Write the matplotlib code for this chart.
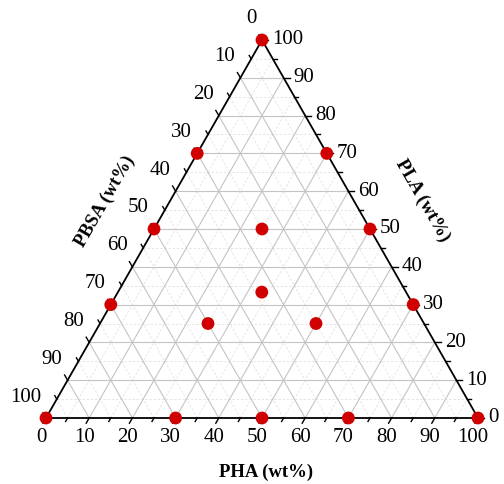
import numpy as np
import matplotlib
matplotlib.use("Agg")
import matplotlib.pyplot as plt

plt.rcParams['font.family'] = ['Liberation Serif', 'DejaVu Serif']

# Blend compositions (wt%)
pha  = [0, 0, 100, 30, 50, 70, 0, 0, 0, 30, 50, 70, 25, 33.3, 25, 50]
pla  = [100, 0, 0, 0, 0, 0, 70, 50, 30, 70, 50, 30, 50, 33.3, 25, 25]
pbsa = [0, 100, 0, 70, 50, 30, 30, 50, 70, 0, 0, 0, 25, 33.4, 50, 25]

tick_values = list(range(0, 101, 10))
minor_values = list(range(5, 100, 10))
axis_labels = {"bottom": "PHA (wt%)", "right": "PLA (wt%)", "left": "PBSA (wt%)"}

H = np.sqrt(3) / 2


def to_xy(a_pha, a_pla):
    a_pha = np.asarray(a_pha, float)
    a_pla = np.asarray(a_pla, float)
    return a_pha + a_pla / 2.0, a_pla * H


W, Hpx = 504, 484
fig = plt.figure(figsize=(W / 100, Hpx / 100), dpi=100)
ax = fig.add_axes([0, 0, 1, 1])
ax.axis("off")

# pixel placement of the triangle
x0px, y0px, sx = 46, 418, 4.32
sy = 378 / (100 * H)
ax.set_xlim(-x0px / sx, (W - x0px) / sx)
ax.set_ylim(-(Hpx - y0px) / sy, y0px / sy)

# grid lines
for c in range(5, 100, 5):
    major = (c % 10 == 0)
    kw = dict(color="#c4c4c4", lw=0.8, ls="-", zorder=1) if major else \
         dict(color="#e2e2e2", lw=0.6, ls=(0, (3, 2)), zorder=0.5)
    # PLA constant
    xa, ya = to_xy([0, 100 - c], [c, c])
    ax.plot(xa, ya, **kw)
    # PHA constant
    xa, ya = to_xy([c, c], [0, 100 - c])
    ax.plot(xa, ya, **kw)
    # PBSA constant
    xa, ya = to_xy([100 - c, 0], [0, 100 - c])
    ax.plot(xa, ya, **kw)

# triangle outline
xt, yt = to_xy([0, 100, 0, 0], [0, 0, 100, 0])
ax.plot(xt, yt, color="black", lw=1.3, zorder=3, solid_joinstyle="miter")

# ticks
def tick(px, py, dx, dy, length_px):
    ax.plot([px, px + dx * length_px / sx], [py, py + dy * length_px / sy],
            color="black", lw=1.0, zorder=3)

for v in tick_values + minor_values:
    L = 6 if v % 10 == 0 else 4
    # bottom axis (PHA): ticks down-left
    bx, by = to_xy(v, 0)
    tick(bx, by, -0.5, -H, L)
    # right axis (PLA): ticks to the right
    rx, ry = to_xy(100 - v, v)
    tick(rx, ry, 1.0, 0.0, L)
    # left axis (PBSA): ticks up-left
    lx, ly = to_xy(0, 100 - v)
    tick(lx, ly, -0.5, H, L)

fs = 15
for v in tick_values:
    bx, by = to_xy(v, 0)
    ax.annotate(str(v), (bx, by), xytext=(-5, -20), textcoords="offset pixels",
                ha="center", va="center", fontsize=fs)
    rx, ry = to_xy(100 - v, v)
    ax.annotate(str(v), (rx, ry), xytext=(10, 0), textcoords="offset pixels",
                ha="left", va="center", fontsize=fs)
    lx, ly = to_xy(0, 100 - v)
    ax.annotate(str(v), (lx, ly), xytext=(-5, 21), textcoords="offset pixels",
                ha="right", va="center", fontsize=fs)

# axis titles
ax.text(266 / W, 1 - 472 / Hpx, axis_labels["bottom"], transform=ax.transAxes,
        ha="center", va="center", fontsize=13.5, fontweight="bold")
ax.text(423 / W, 1 - 201 / Hpx, axis_labels["right"], transform=ax.transAxes,
        ha="center", va="center", fontsize=13.5, fontweight="bold", rotation=-60)
ax.text(105 / W, 1 - 201 / Hpx, axis_labels["left"], transform=ax.transAxes,
        ha="center", va="center", fontsize=13.5, fontweight="bold", rotation=60)

# compositions
px, py = to_xy(pha, pla)
ax.scatter(px, py, s=85, color="#d00000", edgecolors="none", zorder=5, clip_on=False)

fig.savefig("out.png", dpi=100)
